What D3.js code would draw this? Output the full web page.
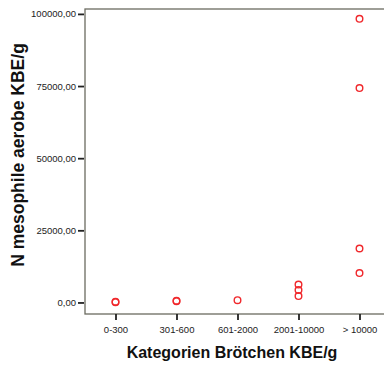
<!DOCTYPE html>
<html>
<head>
<meta charset="utf-8">
<script src="https://cdn.jsdelivr.net/npm/d3@7"></script>
<style>
  body { margin: 0; background: #fff; }
  svg { display: block; font-family: Arial, "Liberation Sans", sans-serif; }
</style>
</head>
<body>
<div id="chart"></div>
<script>
var svgWidth = 384;
var svgHeight = 365;

// categories on the x axis
var categories = ["0-300", "301-600", "601-2000", "2001-10000", "> 10000"];

// one row per measured sample: category + count (KBE/g)
var pointCats = ["0-300", "0-300", "301-600", "301-600", "601-2000",
  "2001-10000", "2001-10000", "2001-10000",
  "> 10000", "> 10000", "> 10000", "> 10000"];
var pointVals = [100, 250, 450, 600, 800,
  2200, 4300, 6200,
  10200, 18700, 74300, 98300];

var yTicks = [0, 25000, 50000, 75000, 100000];

var plot = { left: 85, top: 9, right: 390, bottom: 314 };

var svg = d3.select("#chart")
  .append("svg")
  .attr("width", svgWidth)
  .attr("height", svgHeight);

var xScale = d3.scalePoint()
  .domain(categories)
  .range([plot.left, plot.right])
  .padding(0.5);

var yScale = d3.scaleLinear()
  .domain([-4000, 101700])
  .range([plot.bottom, plot.top]);

// frame
svg.append("rect")
  .attr("x", plot.left)
  .attr("y", plot.top)
  .attr("width", plot.right - plot.left + 20)
  .attr("height", plot.bottom - plot.top)
  .attr("fill", "none")
  .attr("stroke", "#6b6b60")
  .attr("stroke-width", 1.3);

var fmt = function(d) { return d3.format(".2f")(d).replace(".", ","); };

var leftAxis = d3.axisLeft(yScale)
  .tickValues(yTicks)
  .tickFormat(fmt)
  .tickSize(6)
  .tickPadding(2);

var bottomAxis = d3.axisBottom(xScale)
  .tickSize(6)
  .tickPadding(6);

var gy = svg.append("g")
  .attr("transform", `translate(${plot.left - 1}, 0)`)
  .call(leftAxis);

var gx = svg.append("g")
  .attr("transform", `translate(0, ${plot.bottom})`)
  .call(bottomAxis);

[gy, gx].forEach(function(g) {
  g.select(".domain").remove();
  g.selectAll(".tick line").attr("stroke", "#222").attr("stroke-width", 1.8);
  g.selectAll(".tick text")
    .attr("fill", "#222")
    .style("font-size", "9.5px");
});

// points
svg.append("g")
  .selectAll("circle")
  .data(pointVals)
  .enter()
  .append("circle")
  .attr("cx", (d, i) => xScale(pointCats[i]))
  .attr("cy", d => yScale(d))
  .attr("r", 3.3)
  .attr("fill", "none")
  .attr("stroke", "#f0282c")
  .attr("stroke-width", 1.4);

// axis titles
svg.append("text")
  .attr("transform", "translate(24, 155) rotate(-90)")
  .attr("text-anchor", "middle")
  .style("font-size", "17.5px")
  .style("font-weight", "bold")
  .attr("fill", "#111")
  .text("N mesophile aerobe KBE/g");

svg.append("text")
  .attr("x", 232)
  .attr("y", 358)
  .attr("text-anchor", "middle")
  .style("font-size", "16px")
  .style("font-weight", "bold")
  .attr("fill", "#111")
  .text("Kategorien Brötchen KBE/g");
</script>
</body>
</html>
